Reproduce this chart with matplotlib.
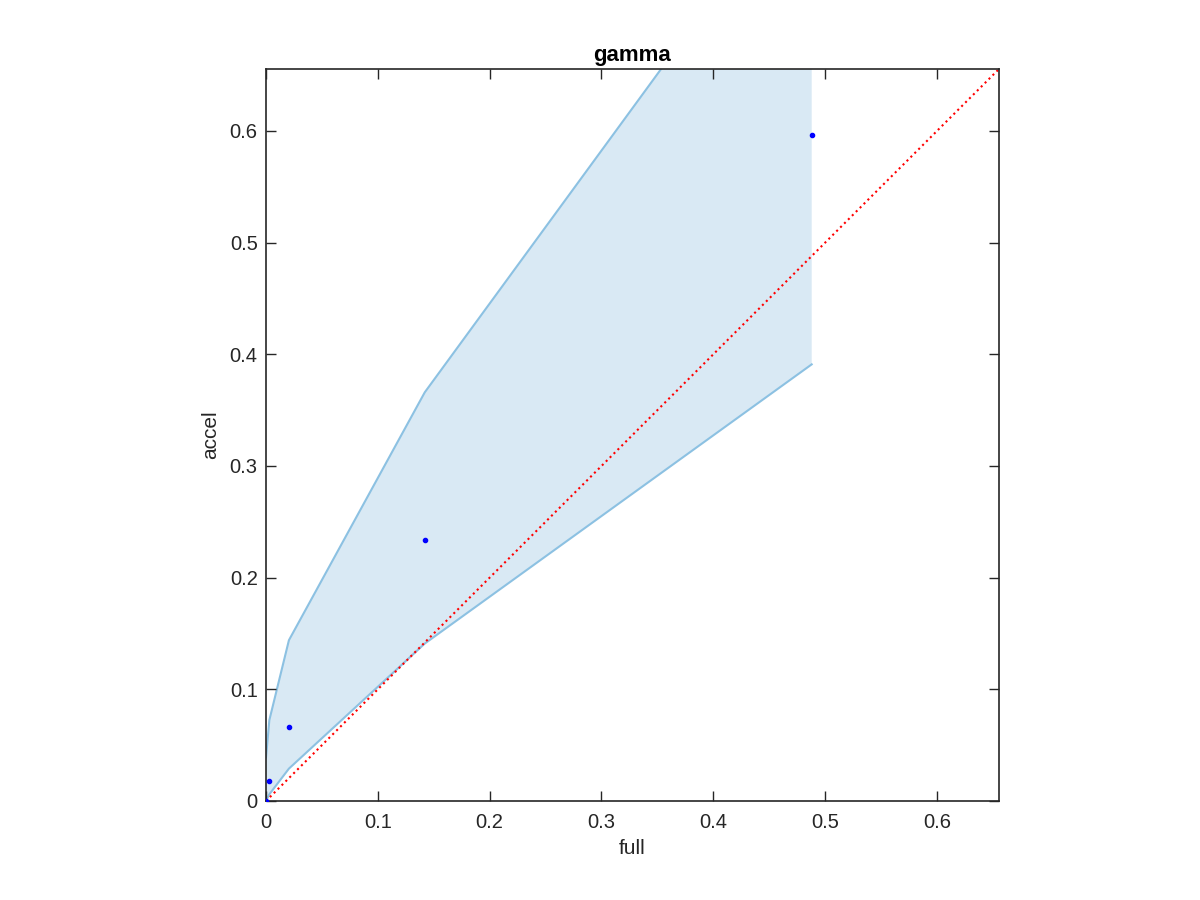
import matplotlib
matplotlib.use("Agg")
import matplotlib.pyplot as plt
import numpy as np

plt.rcParams['font.family'] = ['Liberation Sans', 'DejaVu Sans']

# data
full = [0.0, 0.003, 0.0205, 0.142, 0.488]
accel = [0.0, 0.018, 0.066, 0.234, 0.596]
upper = [0.039, 0.0725, 0.144, 0.366, 0.84]
lower = [0.0, 0.006, 0.029, 0.141, 0.391]
lim = 0.6555
ticks = [0, 0.1, 0.2, 0.3, 0.4, 0.5, 0.6]
tick_labels = ['0', '0.1', '0.2', '0.3', '0.4', '0.5', '0.6']

fig = plt.figure(figsize=(12, 9), dpi=100)
ax = fig.add_axes([266/1200, 99/900, 733/1200, 732/900])

fx = np.array(full)
ax.fill_between(fx, lower, upper, facecolor='#d9e9f4', edgecolor='none', zorder=1)
ax.plot(full, upper, color='#8cc1e2', linewidth=1.5, zorder=1.5)
ax.plot(full, lower, color='#8cc1e2', linewidth=1.5, zorder=1.5)
ax.plot([0, lim], [0, lim], color='red', linestyle=':', linewidth=1.5, zorder=2)
ax.plot(full, accel, 'o', color='blue', markersize=3, zorder=3)

ax.set_xlim(0, lim)
ax.set_ylim(0, lim)
ax.set_xticks(ticks)
ax.set_xticklabels(tick_labels)
ax.set_yticks(ticks)
ax.set_yticklabels(tick_labels)
ax.tick_params(direction='in', top=True, right=True, length=7, width=1, labelsize=14.5, colors='#262626', pad=6)
ax.tick_params(axis='x', pad=9)
for s in ax.spines.values():
    s.set_color('#262626')
    s.set_linewidth(1.2)
ax.set_xlabel('full', fontsize=15, color='#262626', labelpad=5)
ax.set_ylabel('accel', fontsize=15, color='#262626', labelpad=7)
ax.set_title('gamma', fontsize=16, fontweight='bold', pad=6)

fig.savefig('out.png', dpi=100)
